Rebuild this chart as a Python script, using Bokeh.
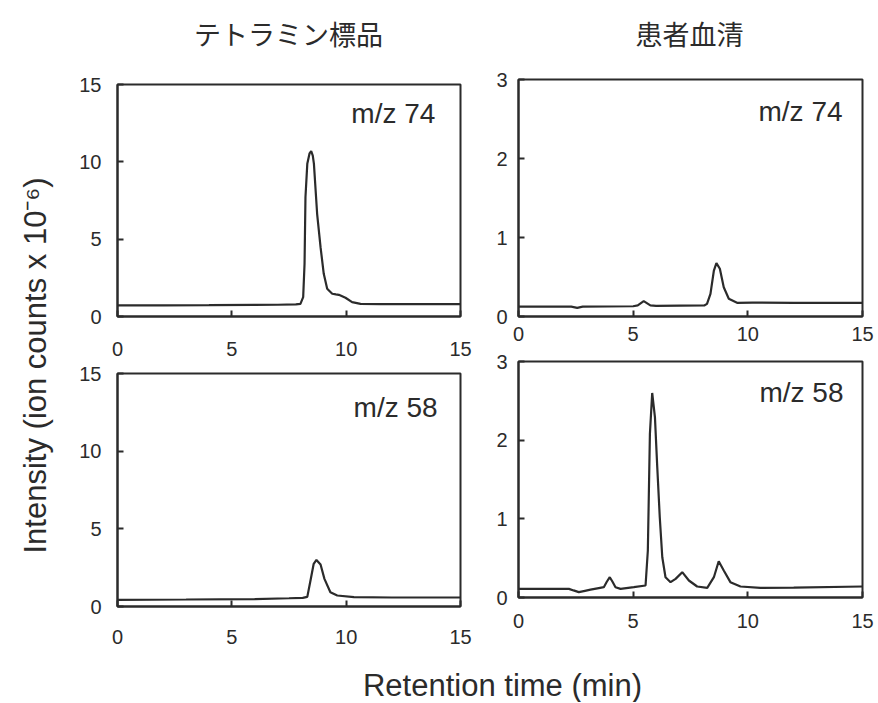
import math
from bokeh.plotting import figure
from bokeh.layouts import row, column
from bokeh.models import Range1d, FixedTicker, Label
from bokeh.embed import file_html
from bokeh.resources import INLINE
from bokeh.core.properties import value

# ---------------- data ----------------
col_titles = ["テトラミン標品", "患者血清"]
ion_labels = ["m/z 74", "m/z 58"]
x_label = "Retention time (min)"
y_label = "Intensity (ion counts x 10⁻⁶)"

x_ticks = [0, 5, 10, 15]
y_ticks_std = [0, 5, 10, 15]
y_ticks_serum = [0, 1, 2, 3]

# standard, m/z 74
std74_t = [0, 2, 4, 6, 7, 7.8, 8.0, 8.12, 8.18, 8.22, 8.30, 8.40, 8.47, 8.54, 8.59, 8.73,
           8.88, 9.02, 9.17, 9.39, 9.55, 9.68, 9.97, 10.26, 10.63, 11.5, 13, 15]
std74_i = [0.72, 0.72, 0.73, 0.75, 0.76, 0.78, 0.82, 1.25, 3.41, 7.71, 9.87, 10.55, 10.69, 10.4,
           9.87, 6.64, 4.48, 2.76, 1.79, 1.47, 1.43, 1.40, 1.21, 0.93, 0.82, 0.8, 0.8, 0.8]

# serum, m/z 74
ser74_t = [0, 2.3, 2.56, 2.8, 5.0, 5.2, 5.46, 5.75, 6.0, 8.1, 8.22, 8.37, 8.52, 8.63, 8.78,
           8.95, 9.17, 9.53, 10.2, 12, 15]
ser74_i = [0.125, 0.125, 0.11, 0.125, 0.13, 0.14, 0.194, 0.14, 0.135, 0.14, 0.16, 0.287, 0.582,
           0.675, 0.604, 0.371, 0.224, 0.173, 0.176, 0.172, 0.173]

# standard, m/z 58
std58_t = [0, 3, 6, 7.5, 8.1, 8.3, 8.44, 8.58, 8.70, 8.88, 9.05, 9.31, 9.61, 10.34, 12, 15]
std58_i = [0.43, 0.45, 0.48, 0.53, 0.56, 0.62, 1.67, 2.75, 3.0, 2.70, 1.78, 0.92, 0.71, 0.6,
           0.58, 0.58]

# serum, m/z 58
ser58_t = [0, 2.2, 2.4, 2.63, 2.9, 3.14, 3.5, 3.72, 3.85, 3.98, 4.1, 4.23, 4.45, 5.03, 5.54,
           5.64, 5.73, 5.83, 5.95, 6.05, 6.16, 6.27, 6.41, 6.63, 6.85, 7.14, 7.43, 7.79, 8.23,
           8.52, 8.73, 8.95, 9.24, 9.68, 10.55, 12, 15]
ser58_i = [0.11, 0.11, 0.09, 0.068, 0.085, 0.10, 0.12, 0.131, 0.2, 0.258, 0.2, 0.131, 0.11,
           0.131, 0.153, 0.597, 2.08, 2.60, 2.29, 1.66, 1.02, 0.512, 0.258, 0.195, 0.237, 0.322,
           0.216, 0.14, 0.123, 0.258, 0.461, 0.343, 0.195, 0.14, 0.123, 0.125, 0.14]

INK = "#2b2b2b"
FONT = "Liberation Sans"
CJK = "Noto Sans CJK JP"


def panel(w, h, bl, br, bt, bb, ymax, yticks, t, inten, lab, lx, ly, xs, ys):
    p = figure(width=w, height=h, x_range=Range1d(0, 15), y_range=Range1d(0, ymax),
               output_backend="svg", toolbar_location=None,
               min_border_left=bl, min_border_right=br, min_border_top=bt, min_border_bottom=bb)
    p.grid.visible = False
    p.background_fill_color = "white"
    p.border_fill_color = "white"
    p.outline_line_color = INK
    p.outline_line_width = 2
    p.xaxis.ticker = FixedTicker(ticks=x_ticks)
    p.yaxis.ticker = FixedTicker(ticks=yticks)
    for ax in p.axis:
        ax.axis_line_color = INK
        ax.axis_line_width = 2
        ax.major_tick_line_color = INK
        ax.major_tick_line_width = 2
        ax.major_tick_in = 6
        ax.major_tick_out = 0
        ax.minor_tick_line_color = None
        ax.major_label_text_font = FONT
        ax.major_label_text_font_size = "20px"
        ax.major_label_text_color = INK
    p.xaxis.major_label_standoff = xs
    p.yaxis.major_label_standoff = ys
    p.line(t, inten, line_color=INK, line_width=2.2)
    p.add_layout(Label(x=lx, y=ly, text=lab, text_align="right", text_baseline="middle",
                       text_font=FONT, text_font_size="28px", text_color=INK))
    return p


tl = panel(424, 296, 52, 29, 16, 48, 15, y_ticks_std, std74_t, std74_i, ion_labels[0],
           13.9, 13.1, 25, 16)
bl = panel(424, 298, 52, 29, 9, 56, 15, y_ticks_std, std58_t, std58_i, ion_labels[1],
           14.0, 12.78, 23, 16)
tr = panel(388, 283, 29, 15, 11, 35, 3, y_ticks_serum, ser74_t, ser74_i, ion_labels[0],
           14.13, 2.595, 10, 11)
br = panel(388, 311, 29, 15, 10, 65, 3, y_ticks_serum, ser58_t, ser58_i, ion_labels[1],
           14.17, 2.606, 16, 11)


def text_fig(w, h, x0, x1, y0, y1):
    p = figure(width=w, height=h, x_range=Range1d(x0, x1), y_range=Range1d(y1, y0),
               output_backend="svg", toolbar_location=None, x_axis_type=None, y_axis_type=None,
               min_border=0, min_border_left=0, min_border_right=0, min_border_top=0,
               min_border_bottom=0)
    p.grid.visible = False
    p.outline_line_color = None
    p.background_fill_color = "white"
    p.border_fill_color = "white"
    return p


top = text_fig(877, 68, 0, 877, 0, 68)
top.text(x=[288, 689], y=[33, 33], text=col_titles, text_font=value(CJK),
         text_font_size=value("27px"), text_color=INK, text_align="center",
         text_baseline="middle")

ylab = text_fig(65, 594, 0, 65, 68, 662)
ylab.text(x=[35], y=[365], text=[y_label], angle=math.pi / 2, text_font=value(FONT),
          text_font_size=value("31px"), text_color=INK, text_align="center",
          text_baseline="middle")

bottom = text_fig(877, 40, 0, 877, 662, 702)
bottom.text(x=[502], y=[685], text=[x_label], text_font=value(FONT),
            text_font_size=value("31px"), text_color=INK, text_align="center",
            text_baseline="middle")

layout = column(top, row(ylab, column(tl, bl), column(tr, br)), bottom)

open("out.html", "w").write(file_html(layout, INLINE))
